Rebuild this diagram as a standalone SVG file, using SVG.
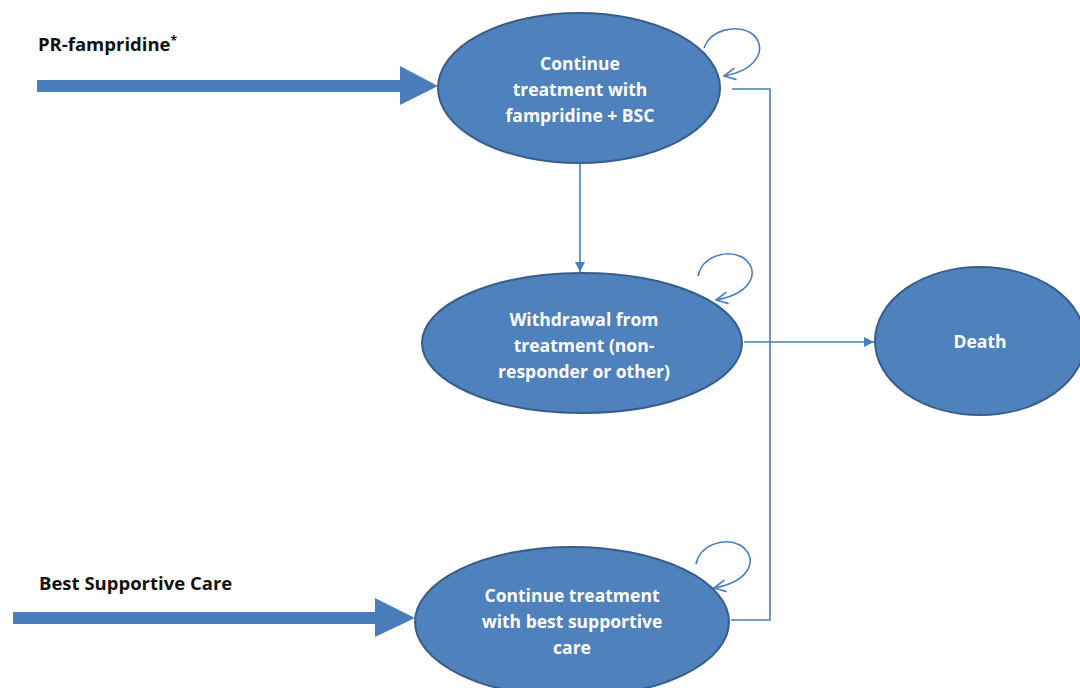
<svg xmlns="http://www.w3.org/2000/svg" width="1080" height="688" viewBox="0 0 1080 688">
<style>
.node{fill:#4F81BD;stroke:#385D8A;stroke-width:2}
.ntext{font-family:"Open Sans","Liberation Sans",sans-serif;font-weight:700;font-size:17.5px;fill:#ffffff;text-anchor:middle}
.label{font-family:"Open Sans","Liberation Sans",sans-serif;font-weight:700;font-size:18.5px;fill:#111111}
.conn{fill:none;stroke:#4A7EBB;stroke-width:1.6}
.big{fill:#4A7EBB}
</style>
<defs>
<marker id="tri2" viewBox="0 0 10 10" refX="10" refY="5" markerWidth="10" markerHeight="10" markerUnits="userSpaceOnUse" orient="auto">
<path d="M0,0 L10,5 L0,10 Z" fill="#4A7EBB"/>
</marker>
<marker id="vee" viewBox="0 0 12 12" refX="11" refY="6" markerWidth="14" markerHeight="14" markerUnits="userSpaceOnUse" orient="auto">
<path d="M1,1 L11,6 L1,11" fill="none" stroke="#4A7EBB" stroke-width="1.4"/>
</marker>
</defs>

<g id="entry-arrows">
<path class="big" d="M37,80 L400,80 L400,66 L438,86 L400,105 L400,92 L37,92 Z"/>
<path class="big" d="M13,612 L375,612 L375,598 L415,618 L375,637 L375,624 L13,624 Z"/>
</g>

<g id="labels">
<text class="label" x="38" y="51">PR-fampridine<tspan font-size="12" dy="-6">*</tspan></text>
<text class="label" x="39" y="590">Best Supportive Care</text>
</g>

<g id="connectors">
<line class="conn" x1="580" y1="163" x2="580" y2="272" marker-end="url(#tri2)"/>
<polyline class="conn" points="732,89 770,89 770,620 731,620"/>
<line class="conn" x1="744" y1="342" x2="874" y2="342" marker-end="url(#tri2)"/>
<path class="conn" d="M704,48 C710,30 735,24 751,33 C767,44 762,69 724,76" marker-end="url(#vee)"/>
<path class="conn" d="M698,276 C702,257 725,249 742,257 C761,269 754,293 716,300" marker-end="url(#vee)"/>
<path class="conn" d="M696,564 C700,545 723,537 740,545 C759,557 752,581 714,588" marker-end="url(#vee)"/>
</g>

<g id="node-famp">
<ellipse class="node" cx="579" cy="88" rx="141" ry="75"/>
<text class="ntext" x="580" y="70">Continue</text>
<text class="ntext" x="580" y="96">treatment with</text>
<text class="ntext" x="580" y="122">fampridine + BSC</text>
</g>

<g id="node-withdrawal">
<ellipse class="node" cx="582" cy="343" rx="160" ry="70"/>
<text class="ntext" x="584" y="326">Withdrawal from</text>
<text class="ntext" x="584" y="352">treatment (non-</text>
<text class="ntext" x="584" y="378">responder or other)</text>
</g>

<g id="node-death">
<ellipse class="node" cx="980" cy="341" rx="105" ry="74"/>
<text class="ntext" x="980" y="348">Death</text>
</g>

<g id="node-bsc">
<ellipse class="node" cx="572" cy="622" rx="157" ry="75"/>
<text class="ntext" x="572" y="602">Continue treatment</text>
<text class="ntext" x="572" y="628">with best supportive</text>
<text class="ntext" x="572" y="654">care</text>
</g>
</svg>
